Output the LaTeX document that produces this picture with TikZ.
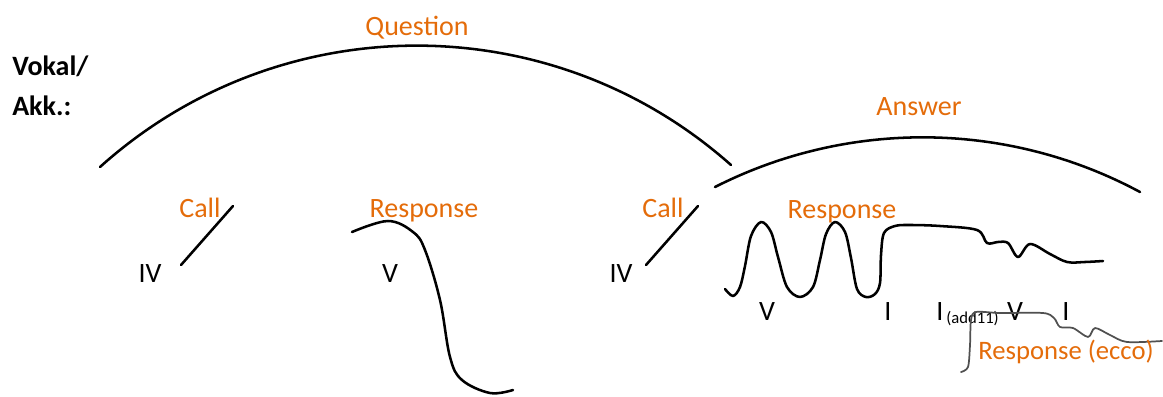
\documentclass[tikz,border=0pt]{standalone}
\usepackage{fontspec}
\setmainfont{Carlito}
\definecolor{acc}{HTML}{E46C0A}
\definecolor{echo}{HTML}{505050}
\begin{document}
\begin{tikzpicture}[x=0.75pt,y=-0.75pt,
  lbl/.style={font=\fontsize{21}{25}\selectfont, inner sep=0pt, anchor=base},
  olbl/.style={lbl, text=acc},
  curve/.style={line width=1.9pt, line cap=round, line join=round},
  ecurve/.style={line width=1.3pt, draw=echo, line cap=round, line join=round}]
\useasboundingbox (0,0) rectangle (1163,396);

% left header
\node[lbl, anchor=base west, font=\fontsize{21}{25}\selectfont\bfseries] (vok) at (12,75) {Vokal/};
\node[lbl, anchor=base west, font=\fontsize{21}{25}\selectfont\bfseries] (akk) at (12,115) {Akk.:};

% arcs
\coordinate (q1) at (100,167);
\coordinate (q2) at (731,165);
\draw[curve] (q1) .. controls (279,6) and (551,5) .. (q2);
\node[olbl] (question) at (417,36) {Question};

\coordinate (a1) at (715,187);
\coordinate (a2) at (1140,192);
\draw[curve] (a1) .. controls (849,119) and (1008,121) .. (a2);
\node[olbl] (answer) at (919,115) {Answer};

% first call
\coordinate (c1a) at (181,265);
\coordinate (c1b) at (233,206);
\draw[curve] (c1a) -- (c1b);
\node[olbl] (call1) at (200,217) {Call};
\node[lbl] (iv1) at (150,282) {IV};

% first response
\node[olbl] (resp1) at (424,217) {Response};
\node[lbl] (v1) at (390,282) {V};
\draw[curve] plot[smooth, tension=0.6] coordinates {(352,232) (388,221) (413,232) (425,250) (440,300) (450,357) (462,380) (490,393) (513,390)};

% second call
\coordinate (c2a) at (646,265);
\coordinate (c2b) at (698,206);
\draw[curve] (c2a) -- (c2b);
\node[olbl] (call2) at (663,217) {Call};
\node[lbl] (iv2) at (621,282) {IV};

% second response
\node[olbl] (resp2) at (842,218) {Response};
\draw[curve] plot[smooth, tension=0.55] coordinates {(725,289) (733,296) (740,287) (745,266) (751,236) (761,222) (771,232) (778,257) (787,287) (800,297) (813,287) (820,260) (826,234) (835,222) (845,232) (851,258) (857,289) (866,297) (875,294) (880,283) (881,255) (884,233) (895,226) (910,225) (940,226) (977,230) (987,243) (998,242) (1008,243) (1018,257) (1030,244) (1050,254) (1067,262) (1085,262) (1103,261)};
\node[lbl] (v2) at (767,320) {V};
\node[lbl] (i1) at (888,320) {I};
\node[lbl] (i2) at (940,320) {I};
\node[inner sep=0pt, anchor=base west, font=\fontsize{12.5}{14}\selectfont] (add) at (946,323) {(add11)};
\node[lbl] (v3) at (1015,320) {V};
\node[lbl] (i3) at (1066,320) {I};

% echo
\draw[ecurve] plot[smooth, tension=0.5] coordinates {(961,372) (968,367) (970,345) (971,320) (976,312) (1000,313) (1043,313) (1054,318) (1060,327) (1073,328) (1088,337) (1095,328) (1110,335) (1127,342) (1162,341)};
\node[olbl, font=\fontsize{20}{24}\selectfont] (ecco) at (1066,359) {Response (ecco)};
\end{tikzpicture}
\end{document}
